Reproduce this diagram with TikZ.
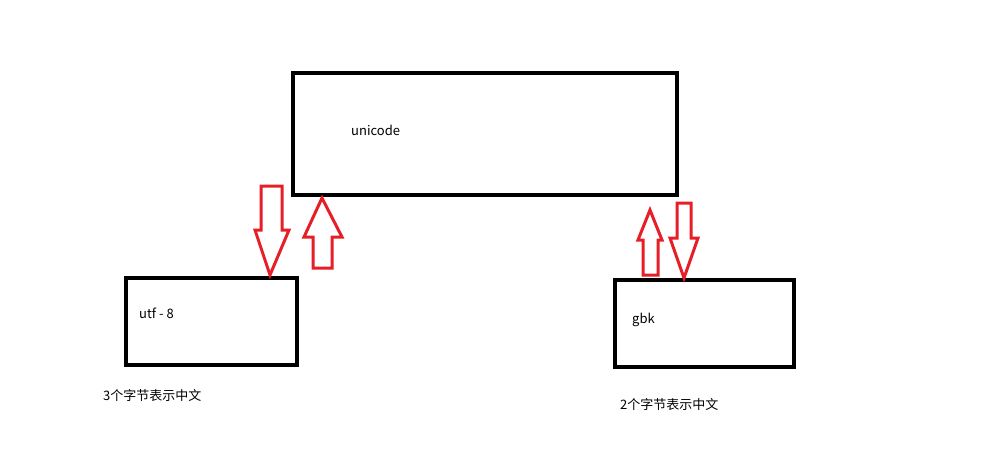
\documentclass[tikz,border=0pt]{standalone}
\usepackage{fontspec}
\setmainfont{Noto Sans CJK SC}
\begin{document}
\begin{tikzpicture}[x=1pt,y=-1pt,
  box/.style={draw=black,line width=4pt},
  blk/.style={draw={rgb,255:red,230;green,30;blue,40},line width=3pt,line join=miter},
  lbl/.style={anchor=west,font=\fontsize{13}{15}\selectfont,inner sep=0pt}]
\useasboundingbox (0,0) rectangle (992,467);
\draw[box] (293,73) rectangle (677,195);
\draw[box] (126,278) rectangle (297,365);
\draw[box] (615,280) rectangle (794,367);
\node[lbl] (u) at (351,130) {unicode};
\node[lbl] (a) at (139,313) {utf - 8};
\node[lbl] (g) at (632,320) {gbk};
\node[lbl] (t1) at (103,395) {3个字节表示中文};
\node[lbl] (t2) at (620,404) {2个字节表示中文};
% left down arrow
\draw[blk] (261,186) -- (282,186) -- (282,230) -- (289,230) -- (270,275) -- (255,230) -- (261,230) -- cycle;
% left up arrow
\draw[blk] (322,198) -- (342,237) -- (332,237) -- (332,268) -- (313,268) -- (313,237) -- (304,237) -- cycle;
% right up arrow
\draw[blk] (650,210) -- (662,240) -- (658,240) -- (658,275) -- (643,275) -- (643,240) -- (638,240) -- cycle;
% right down arrow
\draw[blk] (677,203) -- (691,203) -- (691,238) -- (698,238) -- (684,278) -- (670,238) -- (677,238) -- cycle;
\end{tikzpicture}
\end{document}
